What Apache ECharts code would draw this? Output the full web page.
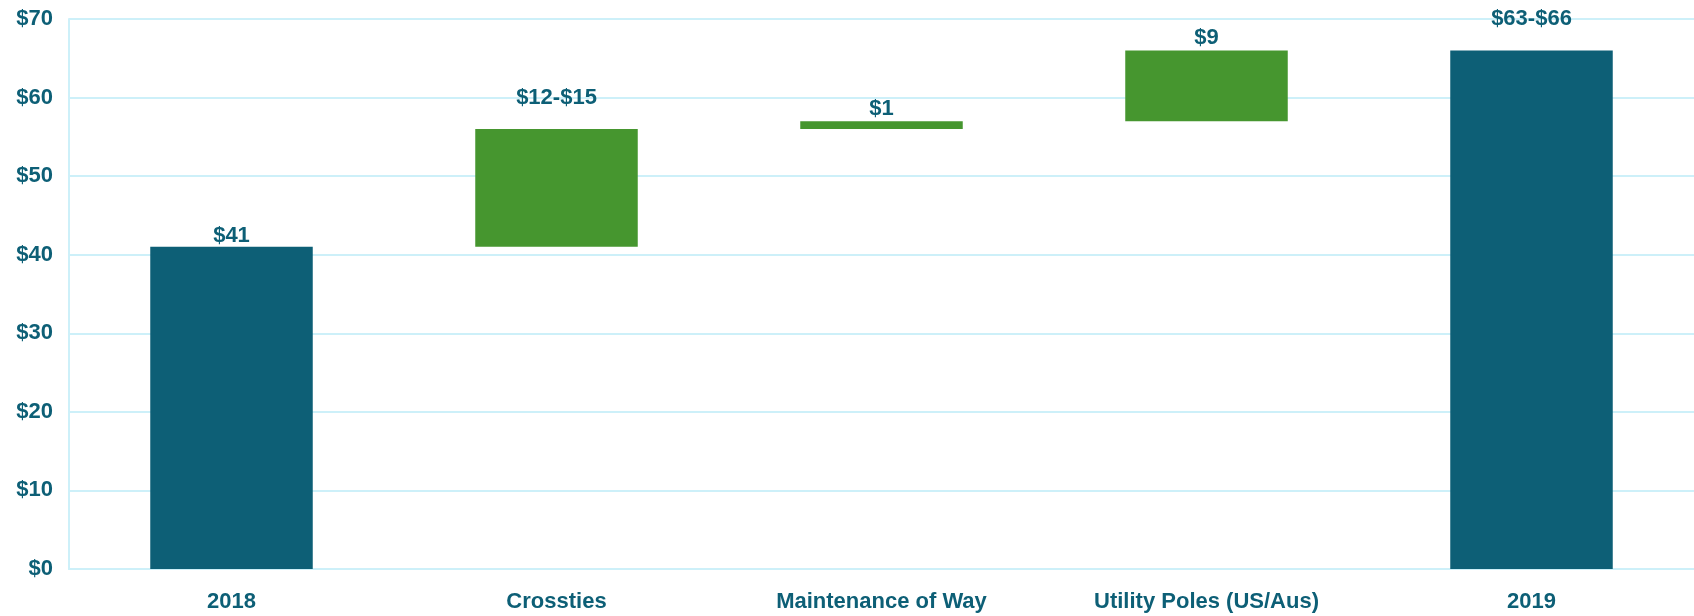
<!DOCTYPE html>
<html>
<head>
<meta charset="utf-8">
<script src="https://cdn.jsdelivr.net/npm/echarts@6/dist/echarts.min.js"></script>
<style>
  html, body { margin: 0; padding: 0; background: #fff; }
  #chart { width: 1694px; height: 616px; }
</style>
</head>
<body>
<div id="chart"></div>
<script>
const categories = ['2018', 'Crossties', 'Maintenance of Way', 'Utility Poles (US/Aus)', '2019']
const baseValues = [0, 41, 56, 57, 0]
const barValues = [41, 15, 1, 9, 66]
const barLabels = ['$41', '$12-$15', '$1', '$9', '$63-$66']
const isTotal = [true, false, false, false, true]
const yTicks = [0, 10, 20, 30, 40, 50, 60, 70]

const TEAL = '#0d5f76'
const GREEN = '#46962f'
const GRID = '#cdf0f9'
const labelGap = [0, 20, 1, 1, 20]

const chart = echarts.init(document.getElementById('chart'))

chart.setOption({
  animation: false,
  textStyle: { fontFamily: 'Liberation Sans, Arial, sans-serif' },
  grid: { left: 69, right: 0, top: 19, bottom: 47, containLabel: false },
  xAxis: {
    type: 'category',
    data: categories,
    axisLine: { lineStyle: { color: GRID, width: 2 } },
    axisTick: { show: false },
    axisLabel: { color: TEAL, fontWeight: 'bold', fontSize: 22, margin: 22 }
  },
  yAxis: {
    type: 'value',
    min: yTicks[0],
    max: yTicks[yTicks.length - 1],
    interval: 10,
    axisLine: { show: true, lineStyle: { color: GRID, width: 2 } },
    axisTick: { show: false },
    splitLine: { lineStyle: { color: GRID, width: 2 } },
    axisLabel: { color: TEAL, fontWeight: 'bold', fontSize: 22, margin: 16, formatter: v => '$' + v }
  },
  series: [
    {
      type: 'bar',
      stack: 'w',
      silent: true,
      itemStyle: { color: 'transparent' },
      data: baseValues
    },
    {
      type: 'bar',
      stack: 'w',
      barWidth: '50%',
      data: barValues.map((v, i) => ({
        value: v,
        itemStyle: { color: isTotal[i] ? TEAL : GREEN },
        label: {
          show: true,
          position: 'top',
          distance: labelGap[i],
          formatter: barLabels[i],
          color: TEAL,
          fontWeight: 'bold',
          fontSize: 22
        }
      }))
    }
  ]
})
</script>
</body>
</html>
